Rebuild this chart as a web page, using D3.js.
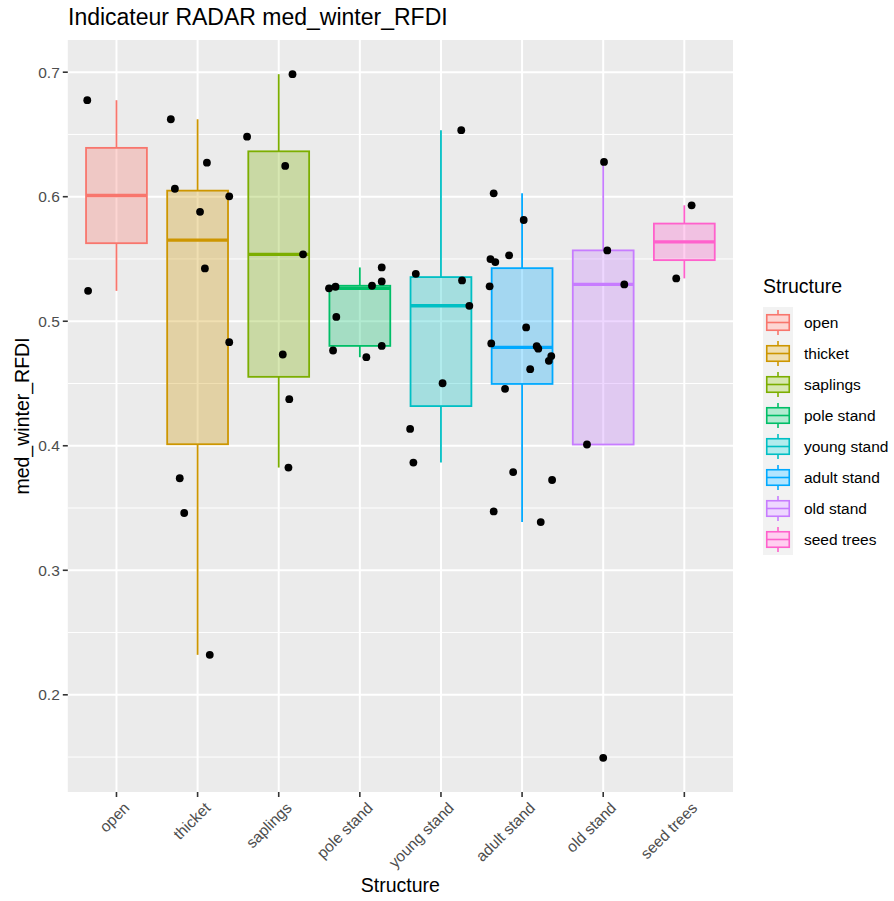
<!DOCTYPE html>
<html>
<head>
<meta charset="utf-8">
<script src="https://cdn.jsdelivr.net/npm/d3@7"></script>
<style>
  body { margin: 0; background: #ffffff; }
  text { font-family: "Liberation Sans", Arial, sans-serif; }
</style>
</head>
<body>
<svg id="chart" width="894" height="901"></svg>
<script>
//categories and colours (ggplot default hue palette)
var categories = ["open", "thicket", "saplings", "pole stand", "young stand", "adult stand", "old stand", "seed trees"];
var colors = ["#F8766D", "#CD9600", "#7CAE00", "#00BE67", "#00BFC4", "#00A9FF", "#C77CFF", "#FF61CC"];

//med_winter_RFDI values per structure
var values = [
	[0.6775, 0.5244],
	[0.6622, 0.6273, 0.6064, 0.6003, 0.5879, 0.5424, 0.4832, 0.3739, 0.3460, 0.2321],
	[0.6984, 0.6482, 0.6247, 0.5537, 0.4733, 0.4374, 0.3825],
	[0.5264, 0.5277, 0.5285, 0.5432, 0.5320, 0.5035, 0.4802, 0.4765, 0.4711],
	[0.6534, 0.5381, 0.5328, 0.5124, 0.4502, 0.4135, 0.3865],
	[0.6027, 0.5813, 0.5529, 0.5499, 0.5475, 0.5280, 0.4950, 0.4822, 0.4800, 0.4780, 0.4720, 0.4682, 0.4615, 0.4457, 0.3789, 0.3725, 0.3473, 0.3387],
	[0.6279, 0.5569, 0.5296, 0.4010, 0.1494],
	[0.5931, 0.5344]
];

//horizontal jitter of each point (in category units), as seen in the picture
var jitter = [
	[-0.36, -0.35],
	[-0.33, 0.115, -0.28, 0.39, 0.03, 0.09, 0.39, -0.22, -0.165, 0.15],
	[0.17, -0.39, 0.08, 0.30, 0.05, 0.13, 0.12],
	[-0.38, -0.30, 0.15, 0.27, 0.27, -0.29, 0.27, -0.33, 0.08],
	[0.25, -0.31, 0.26, 0.35, 0.02, -0.38, -0.34],
	[-0.35, 0.02, -0.16, -0.39, -0.33, -0.40, 0.05, -0.38, 0.18, 0.20, 0.36, 0.33, 0.10, -0.21, -0.11, 0.37, -0.35, 0.23],
	[0.01, 0.05, 0.26, -0.20, 0.00],
	[0.09, -0.10]
];

var yTicks = [0.2, 0.3, 0.4, 0.5, 0.6, 0.7];
var yMinorTicks = [0.15, 0.25, 0.35, 0.45, 0.55, 0.65];

var titleText = "Indicateur RADAR med_winter_RFDI";
var xTitle = "Structure";
var yTitle = "med_winter_RFDI";
var legendTitle = "Structure";

//panel geometry
var panel = {left: 67.8, right: 733, top: 40, bottom: 792};

var svg = d3.select("#chart");

//y domain: data range expanded by 5% like ggplot
var allValues = d3.merge(values);
var ext = d3.extent(allValues);
var pad = (ext[1] - ext[0]) * 0.05;

var y = d3.scaleLinear()
	.domain([ext[0] - pad, ext[1] + pad])
	.range([panel.bottom, panel.top]);

var x = d3.scalePoint()
	.domain(categories)
	.range([panel.left, panel.right])
	.padding(0.6);

var step = x.step();
var boxWidth = step * 0.75;

//panel background + grid
svg.append("rect")
	.attr("x", panel.left)
	.attr("y", panel.top)
	.attr("width", panel.right - panel.left)
	.attr("height", panel.bottom - panel.top)
	.attr("fill", "#EBEBEB");

var grid = svg.append("g");
grid.selectAll(".minor")
	.data(yMinorTicks)
	.enter().append("line")
	.attr("x1", panel.left).attr("x2", panel.right)
	.attr("y1", function(d){ return y(d); })
	.attr("y2", function(d){ return y(d); })
	.attr("stroke", "#ffffff")
	.attr("stroke-width", 1);
grid.selectAll(".major")
	.data(yTicks)
	.enter().append("line")
	.attr("x1", panel.left).attr("x2", panel.right)
	.attr("y1", function(d){ return y(d); })
	.attr("y2", function(d){ return y(d); })
	.attr("stroke", "#ffffff")
	.attr("stroke-width", 2);
grid.selectAll(".vmajor")
	.data(categories)
	.enter().append("line")
	.attr("x1", function(d){ return x(d); })
	.attr("x2", function(d){ return x(d); })
	.attr("y1", panel.top).attr("y2", panel.bottom)
	.attr("stroke", "#ffffff")
	.attr("stroke-width", 2);

//box statistics (type 7 quantiles, 1.5 IQR whiskers)
var stats = categories.map(function(c, i){
	var v = values[i].slice().sort(d3.ascending);
	var q1 = d3.quantile(v, 0.25),
		med = d3.quantile(v, 0.5),
		q3 = d3.quantile(v, 0.75),
		iqr = q3 - q1;
	var inside = v.filter(function(d){ return d >= q1 - 1.5 * iqr && d <= q3 + 1.5 * iqr; });
	return {cat: c, color: colors[i], q1: q1, med: med, q3: q3,
		lo: d3.min(inside), hi: d3.max(inside)};
});

var boxes = svg.append("g").selectAll("g")
	.data(stats)
	.enter().append("g");

//whiskers
boxes.append("line")
	.attr("x1", function(d){ return x(d.cat); })
	.attr("x2", function(d){ return x(d.cat); })
	.attr("y1", function(d){ return y(d.hi); })
	.attr("y2", function(d){ return y(d.q3); })
	.attr("stroke", function(d){ return d.color; })
	.attr("stroke-width", 1.8);
boxes.append("line")
	.attr("x1", function(d){ return x(d.cat); })
	.attr("x2", function(d){ return x(d.cat); })
	.attr("y1", function(d){ return y(d.q1); })
	.attr("y2", function(d){ return y(d.lo); })
	.attr("stroke", function(d){ return d.color; })
	.attr("stroke-width", 1.8);

//box
boxes.append("rect")
	.attr("x", function(d){ return x(d.cat) - boxWidth / 2; })
	.attr("y", function(d){ return y(d.q3); })
	.attr("width", boxWidth)
	.attr("height", function(d){ return y(d.q1) - y(d.q3); })
	.attr("fill", function(d){ return d.color; })
	.attr("fill-opacity", 0.3)
	.attr("stroke", function(d){ return d.color; })
	.attr("stroke-width", 1.8);

//median
boxes.append("line")
	.attr("x1", function(d){ return x(d.cat) - boxWidth / 2; })
	.attr("x2", function(d){ return x(d.cat) + boxWidth / 2; })
	.attr("y1", function(d){ return y(d.med); })
	.attr("y2", function(d){ return y(d.med); })
	.attr("stroke", function(d){ return d.color; })
	.attr("stroke-width", 3.4);

//jittered points
var pts = [];
values.forEach(function(arr, i){
	arr.forEach(function(v, j){
		pts.push({cat: categories[i], value: v, dx: jitter[i][j]});
	});
});
svg.append("g").selectAll("circle")
	.data(pts)
	.enter().append("circle")
	.attr("cx", function(d){ return x(d.cat) + d.dx * step; })
	.attr("cy", function(d){ return y(d.value); })
	.attr("r", 3.9)
	.attr("fill", "#000000");

//y axis
var yAxis = svg.append("g");
yAxis.selectAll("line")
	.data(yTicks)
	.enter().append("line")
	.attr("x1", panel.left - 5).attr("x2", panel.left)
	.attr("y1", function(d){ return y(d); })
	.attr("y2", function(d){ return y(d); })
	.attr("stroke", "#333333")
	.attr("stroke-width", 1.6);
yAxis.selectAll("text")
	.data(yTicks)
	.enter().append("text")
	.attr("x", panel.left - 8)
	.attr("y", function(d){ return y(d); })
	.attr("dy", "0.36em")
	.attr("text-anchor", "end")
	.attr("font-size", "15.5px")
	.attr("fill", "#4D4D4D")
	.text(d3.format(".1f"));

//x axis
var xAxis = svg.append("g");
xAxis.selectAll("line")
	.data(categories)
	.enter().append("line")
	.attr("x1", function(d){ return x(d); })
	.attr("x2", function(d){ return x(d); })
	.attr("y1", panel.bottom).attr("y2", panel.bottom + 5)
	.attr("stroke", "#333333")
	.attr("stroke-width", 1.6);
xAxis.selectAll("text")
	.data(categories)
	.enter().append("text")
	.attr("transform", function(d){ return "translate(" + (x(d) + 6) + "," + (panel.bottom + 9) + ") rotate(-45)"; })
	.attr("dy", "0.72em")
	.attr("text-anchor", "end")
	.attr("font-size", "15.5px")
	.attr("fill", "#4D4D4D")
	.text(function(d){ return d; });

//titles
svg.append("text")
	.attr("x", 68)
	.attr("y", 25)
	.attr("font-size", "23px")
	.attr("fill", "#000000")
	.text(titleText);

svg.append("text")
	.attr("x", (panel.left + panel.right) / 2)
	.attr("y", 892)
	.attr("text-anchor", "middle")
	.attr("font-size", "19.5px")
	.attr("fill", "#000000")
	.text(xTitle);

svg.append("text")
	.attr("transform", "translate(29," + ((panel.top + panel.bottom) / 2) + ") rotate(-90)")
	.attr("text-anchor", "middle")
	.attr("font-size", "19.5px")
	.attr("fill", "#000000")
	.text(yTitle);

//legend
var legend = svg.append("g").attr("transform", "translate(763,307)");
legend.append("text")
	.attr("x", 0)
	.attr("y", -14)
	.attr("font-size", "19.5px")
	.attr("fill", "#000000")
	.text(legendTitle);

var keyW = 30, keyH = 31;
var keys = legend.selectAll(".key")
	.data(stats)
	.enter().append("g")
	.attr("transform", function(d, i){ return "translate(0," + (i * keyH) + ")"; });

keys.append("rect")
	.attr("width", keyW).attr("height", keyH)
	.attr("fill", "#F2F2F2");
keys.append("line")
	.attr("x1", keyW / 2).attr("x2", keyW / 2)
	.attr("y1", keyH * 0.1).attr("y2", keyH * 0.9)
	.attr("stroke", function(d){ return d.color; })
	.attr("stroke-width", 1.6);
keys.append("rect")
	.attr("x", keyW * 0.125).attr("y", keyH * 0.25)
	.attr("width", keyW * 0.75).attr("height", keyH * 0.5)
	.attr("fill", "#ffffff")
	.attr("stroke", "none");
keys.append("rect")
	.attr("x", keyW * 0.125).attr("y", keyH * 0.25)
	.attr("width", keyW * 0.75).attr("height", keyH * 0.5)
	.attr("fill", function(d){ return d.color; })
	.attr("fill-opacity", 0.3)
	.attr("stroke", function(d){ return d.color; })
	.attr("stroke-width", 1.6);
keys.append("line")
	.attr("x1", keyW * 0.125).attr("x2", keyW * 0.875)
	.attr("y1", keyH / 2).attr("y2", keyH / 2)
	.attr("stroke", function(d){ return d.color; })
	.attr("stroke-width", 1.6);
keys.append("text")
	.attr("x", keyW + 11)
	.attr("y", keyH / 2)
	.attr("dy", "0.36em")
	.attr("font-size", "15.5px")
	.attr("fill", "#000000")
	.text(function(d){ return d.cat; });
</script>
</body>
</html>
